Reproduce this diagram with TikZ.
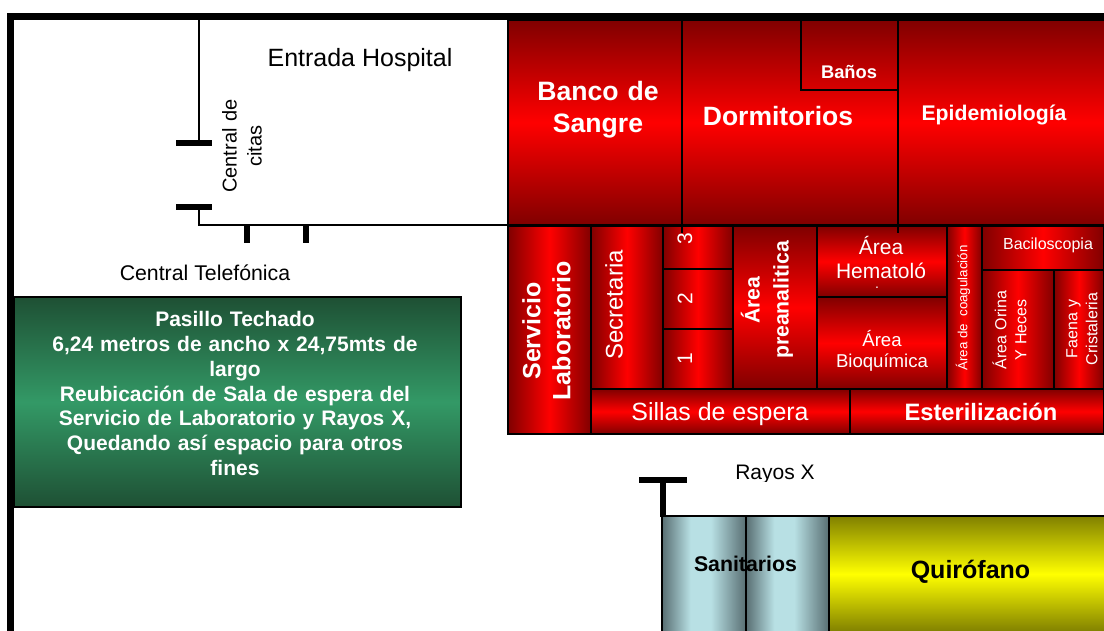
\documentclass[tikz,border=0pt]{standalone}
\usepackage{fontspec}
\setmainfont{Liberation Sans}
\definecolor{rd}{RGB}{128,0,0}
\definecolor{rb}{RGB}{255,0,0}
\definecolor{gd}{RGB}{30,80,52}
\definecolor{gb}{RGB}{51,153,102}
\definecolor{yd}{RGB}{128,128,0}
\definecolor{yb}{RGB}{255,255,0}
\definecolor{td}{RGB}{88,110,114}
\definecolor{tb}{RGB}{184,224,228}
\pgfdeclarehorizontalshading{tealsh}{100bp}{color(0bp)=(td); color(25bp)=(td); color(42bp)=(tb); color(54bp)=(tb); color(75bp)=(td); color(100bp)=(td)}
\newcommand{\fsz}[2]{\fontsize{#1}{#2}\selectfont}
\tikzset{
  x=1pt,y=-1pt,
  room/.style={draw=black,line width=2pt,minimum size=0pt,inner sep=0pt,outer sep=0pt},
  hred/.style={room,left color=rd,right color=rd,middle color=rb},
  vred/.style={room,top color=rd,bottom color=rd,middle color=rb},
  vgreen/.style={room,top color=gd,bottom color=gd,middle color=gb},
  vyellow/.style={room,top color=yd,bottom color=yd,middle color=yb},
  hteal/.style={room,shading=tealsh},
  wall/.style={draw=black,line width=2pt},
  bar/.style={draw=black,line width=6pt},
  lbl/.style={inner sep=0pt,align=center,text=white},
  dlbl/.style={inner sep=0pt,align=center,text=black},
}
\newcommand{\roomat}[6]{\node[#2,minimum width=#5-#3,minimum height=#6-#4,anchor=north west] (#1) at (#3,#4) {};}
\begin{document}
\begin{tikzpicture}
\useasboundingbox (0,0) rectangle (1104,631);
\clip (0,0) rectangle (1104,631);
\fill[white] (0,0) rectangle (1104,631);
% upper block
\roomat{banco}{vred}{508}{20}{682}{225}
\roomat{dorm}{vred}{682}{20}{898}{225}
\roomat{epid}{vred}{898}{20}{1110}{225}
\roomat{banos}{room,top color=rd,bottom color=rb!85!black}{801}{20}{898}{90}
% lower block
\roomat{serv}{hred}{508}{226}{591}{434}
\roomat{secr}{hred}{591}{226}{663}{389}
\roomat{tres}{hred}{663}{226}{733}{269}
\roomat{dos}{hred}{663}{269}{733}{329}
\roomat{uno}{hred}{663}{329}{733}{389}
\roomat{prea}{vred}{733}{226}{817}{389}
\roomat{hema}{vred}{817}{226}{947}{297}
\roomat{bioq}{vred}{817}{297}{947}{389}
\roomat{coag}{hred}{947}{226}{982}{389}
\roomat{baci}{hred}{982}{226}{1104}{270}
\roomat{orina}{hred}{982}{270}{1054}{389}
\roomat{faena}{hred}{1054}{270}{1104}{389}
\roomat{sillas}{vred}{591}{389}{850}{434}
\roomat{ester}{vred}{850}{389}{1104}{434}
% green, sanitary and theatre
\roomat{pasillo}{vgreen}{14}{297}{461}{507}
\roomat{sanA}{hteal}{662}{516}{746}{632}
\roomat{sanB}{hteal}{746}{516}{829}{632}
\roomat{quir}{vyellow}{829}{516}{1110}{632}
% walls
\coordinate (tl) at (10.5,16.5);
\coordinate (tr) at (1110,16.5);
\coordinate (bl) at (10.5,640);
\draw[draw=black,line width=7pt] (bl) -- (tl) -- (tr);
\coordinate (wa) at (199,17);
\coordinate (wb) at (199,143);
\coordinate (wc) at (199,207);
\coordinate (wd) at (199,225);
\coordinate (we) at (508,225);
\draw[wall] (wa) -- (wb);
\draw[wall] (wc) -- (wd) -- (we);
\coordinate (d1l) at (176,143.5); \coordinate (d1r) at (212,143.5);
\coordinate (d2l) at (176,207); \coordinate (d2r) at (212,207);
\draw[bar] (d1l) -- (d1r);
\draw[bar] (d2l) -- (d2r);
\coordinate (t1a) at (247,225); \coordinate (t1b) at (247,243);
\coordinate (t2a) at (306,225); \coordinate (t2b) at (306,243);
\draw[bar] (t1a) -- (t1b);
\draw[bar] (t2a) -- (t2b);
\coordinate (s1a) at (682,225); \coordinate (s1b) at (682,233);
\coordinate (s2a) at (898,225); \coordinate (s2b) at (898,233);
\draw[wall] (s1a) -- (s1b);
\draw[wall] (s2a) -- (s2b);
\coordinate (rl) at (639,480); \coordinate (rr) at (687,480);
\coordinate (rt) at (662.5,480); \coordinate (rb) at (662.5,517);
\draw[bar] (rl) -- (rr);
\draw[bar] (rt) -- (rb);
% labels
\node[lbl,font=\fsz{26.6}{32}\bfseries,text width=170pt] (tbanco) at (598,110) {Banco de\\Sangre};
\node[lbl,font=\fsz{26.5}{30}\bfseries] (tdorm) at (778,116) {Dormitorios};
\node[lbl,font=\fsz{18.3}{20}\bfseries] (tbanos) at (849,72) {Baños};
\node[lbl,font=\fsz{21.2}{24}\bfseries] (tepid) at (994,115) {Epidemiología};
\node[lbl,font=\fsz{25}{30}\bfseries,rotate=90,text width=200pt] (tserv) at (546.5,331) {Servicio\\Laboratorio};
\node[lbl,font=\fsz{24}{28},rotate=90] (tsecr) at (614,305) {Secretaria};
\node[lbl,font=\fsz{21}{24},rotate=90] (ttres) at (685,239) {3};
\node[lbl,font=\fsz{21}{24},rotate=90] (tdos) at (685,299) {2};
\node[lbl,font=\fsz{21}{24},rotate=90] (tuno) at (685,359) {1};
\node[lbl,font=\fsz{21.2}{29}\bfseries,rotate=90,text width=160pt] (tprea) at (767,300) {Área\\preanalitica};
\node[lbl,font=\fsz{21}{24},text width=128pt] (thema) at (881,257) {Área\\Hematoló};
\node[lbl,font=\fsz{14}{14}] (tdot) at (877,288) {.};
\node[lbl,font=\fsz{18.6}{21},text width=128pt] (tbioq) at (882,351) {Área\\Bioquímica};
\node[lbl,font=\fsz{13.3}{16},rotate=90] (tcoag) at (963,308) {Área de\ \ coagulación};
\node[lbl,font=\fsz{16}{20}] (tbaci) at (1048,245) {Baciloscopia};
\node[lbl,font=\fsz{16}{20},rotate=90,text width=110pt] (torina) at (1009.5,330) {Área Orina\\Y Heces};
\node[lbl,font=\fsz{16}{20},rotate=90,text width=110pt] (tfaena) at (1082,329) {Faena y\\Cristaleria};
\node[lbl,font=\fsz{24.9}{28}] (tsillas) at (720,414) {Sillas de espera};
\node[lbl,font=\fsz{23.7}{28}\bfseries] (tester) at (981,412) {Esterilización};
\node[lbl,font=\fsz{21}{24.8}\bfseries,text width=440pt] (tpas) at (235,393.5) {Pasillo Techado\\6,24 metros de ancho x 24,75mts de\\largo\\Reubicación de Sala de espera del\\Servicio de Laboratorio y Rayos X,\\Quedando así espacio para otros\\fines};
\node[dlbl,font=\fsz{21.3}{24}\bfseries] (tsan) at (745.5,564) {Sanitarios};
\node[dlbl,font=\fsz{25}{28}\bfseries] (tquir) at (970.5,572) {Quirófano};
\node[dlbl,font=\fsz{25}{28}] (tent) at (360,60) {Entrada Hospital};
\node[dlbl,font=\fsz{21.3}{24}] (ttel) at (205,273) {Central Telefónica};
\node[dlbl,font=\fsz{20}{25},rotate=90,text width=120pt] (tcit) at (242,146) {Central de\\citas};
\node[dlbl,font=\fsz{21}{24}] (tray) at (775,474) {Rayos X};
\fill[white] (700,482) rectangle (830,490);
\end{tikzpicture}
\end{document}
